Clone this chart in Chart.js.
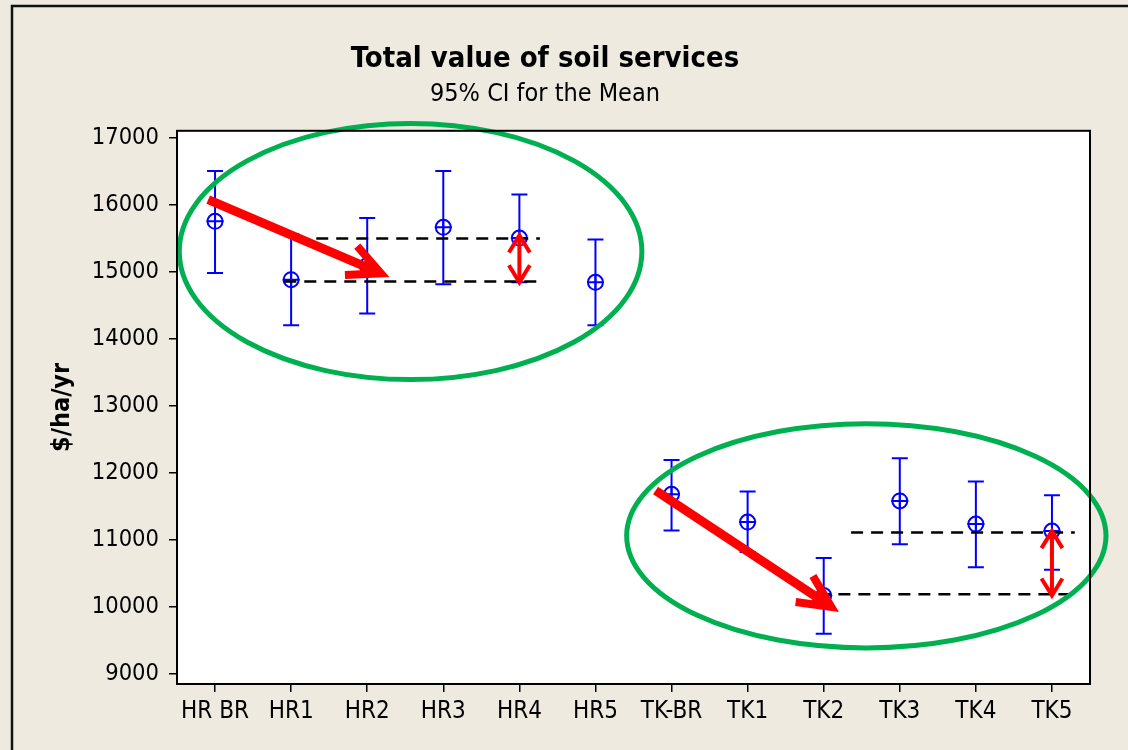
<!DOCTYPE html>
<html>
<head>
<meta charset="utf-8">
<script src="https://cdn.jsdelivr.net/npm/chart.js@4.4.1/dist/chart.umd.min.js"></script>
<style>
  html, body { margin: 0; padding: 0; background: #EEEAE0; overflow: hidden; }
  #wrap { width: 1128px; height: 750px; }
</style>
</head>
<body>
<div id="wrap"><canvas id="ciChart" width="1128" height="750"></canvas></div>
<script>
// data
const groups = ['HR BR', 'HR1', 'HR2', 'HR3', 'HR4', 'HR5', 'TK-BR', 'TK1', 'TK2', 'TK3', 'TK4', 'TK5'];
const means  = [15750, 14880, 15090, 15660, 15500, 14840, 11680, 11265, 10170, 11580, 11235, 11130];
const ciLow  = [14980, 14200, 14375, 14810, 14840, 14200, 11140, 10820, 9600, 10935, 10590, 10555];
const ciHigh = [16500, 15560, 15800, 16500, 16150, 15480, 12190, 11720, 10730, 12215, 11870, 11665];
const yTicks = [9000, 10000, 11000, 12000, 13000, 14000, 15000, 16000, 17000];

// annotations, in category index / value units
const ellipses = [
  { cx: 2.57, cy: 15300, rx: 3.04, ry: 1910 },
  { cx: 8.56, cy: 11060, rx: 3.15, ry: 1672 }
];
const dashLines = [
  { x0: 1.33, x1: 4.27, y: 15493 },
  { x0: 0.91, x1: 4.25, y: 14851 },
  { x0: 8.36, x1: 11.30, y: 11109 },
  { x0: 7.93, x1: 11.26, y: 10189 }
];
const arrows = [
  { x0: -0.09, y0: 16075, x1: 2.18, y1: 14975 },
  { x0: 5.79, y0: 11735, x1: 8.1, y1: 10000 }
];
const doubleArrows = [
  { x: 4, y0: 15540, y1: 14840 },
  { x: 11, y0: 11130, y1: 10170 }
];

const BLUE = '#0000FF', GREEN = '#00B050', RED = '#FF0000';
const FONT = '"DejaVu Sans Condensed", "DejaVu Sans", sans-serif';

function arrowHead(ctx, tx, ty, ang, len, spread) {
  ctx.beginPath();
  ctx.moveTo(tx - len * Math.cos(ang - spread), ty - len * Math.sin(ang - spread));
  ctx.lineTo(tx, ty);
  ctx.lineTo(tx - len * Math.cos(ang + spread), ty - len * Math.sin(ang + spread));
  ctx.stroke();
}

const framePlugin = {
  id: 'frame',
  beforeDraw(chart) {
    const { ctx, chartArea: a } = chart;
    ctx.save();
    ctx.fillStyle = '#EEEAE0';
    ctx.fillRect(0, 0, chart.width, chart.height);
    ctx.strokeStyle = '#111';
    ctx.lineWidth = 2.5;
    ctx.beginPath();
    ctx.moveTo(12, 760);
    ctx.lineTo(12, 6);
    ctx.lineTo(1140, 6);
    ctx.stroke();
    ctx.fillStyle = '#fff';
    ctx.fillRect(a.left, a.top, a.right - a.left, a.bottom - a.top);
    ctx.restore();
  },
  afterDraw(chart) {
    const { ctx, chartArea: a } = chart;
    ctx.save();
    ctx.strokeStyle = '#000';
    ctx.lineWidth = 2;
    ctx.strokeRect(a.left, a.top, a.right - a.left, a.bottom - a.top);
    ctx.restore();
  }
};

const intervalPlugin = {
  id: 'intervals',
  beforeDatasetsDraw(chart) {
    const { ctx, scales: { x, y } } = chart;
    ctx.save();
    ctx.strokeStyle = BLUE;
    ctx.lineWidth = 2;
    groups.forEach((g, i) => {
      const px = x.getPixelForValue(i);
      const lo = y.getPixelForValue(ciLow[i]);
      const hi = y.getPixelForValue(ciHigh[i]);
      ctx.beginPath();
      ctx.moveTo(px, lo); ctx.lineTo(px, hi);
      ctx.moveTo(px - 8, lo); ctx.lineTo(px + 8, lo);
      ctx.moveTo(px - 8, hi); ctx.lineTo(px + 8, hi);
      ctx.stroke();
    });
    ctx.restore();
  },
  afterDatasetsDraw(chart) {
    const { ctx, scales: { x, y } } = chart;
    ctx.save();
    // dashed reference lines
    ctx.strokeStyle = '#000';
    ctx.lineWidth = 2.5;
    ctx.setLineDash([12, 8]);
    dashLines.forEach(d => {
      const py = y.getPixelForValue(d.y);
      ctx.beginPath();
      ctx.moveTo(x.getPixelForValue(d.x0), py);
      ctx.lineTo(x.getPixelForValue(d.x1), py);
      ctx.stroke();
    });
    ctx.setLineDash([]);

    // red arrows
    ctx.strokeStyle = RED;
    ctx.fillStyle = RED;
    ctx.lineCap = 'butt';
    arrows.forEach(a => {
      const x0 = x.getPixelForValue(a.x0), y0 = y.getPixelForValue(a.y0);
      const x1 = x.getPixelForValue(a.x1), y1 = y.getPixelForValue(a.y1);
      const ang = Math.atan2(y1 - y0, x1 - x0);
      ctx.lineWidth = 9;
      ctx.beginPath();
      ctx.moveTo(x0, y0);
      ctx.lineTo(x1 - 10 * Math.cos(ang), y1 - 10 * Math.sin(ang));
      ctx.stroke();
      ctx.lineWidth = 8;
      ctx.lineJoin = 'miter';
      arrowHead(ctx, x1, y1, ang, 36, 0.45);
      ctx.beginPath();
      ctx.moveTo(x1, y1);
      ctx.lineTo(x1 - 22 * Math.cos(ang - 0.45), y1 - 22 * Math.sin(ang - 0.45));
      ctx.lineTo(x1 - 22 * Math.cos(ang + 0.45), y1 - 22 * Math.sin(ang + 0.45));
      ctx.closePath();
      ctx.fill();
    });
    doubleArrows.forEach(d => {
      const px = x.getPixelForValue(d.x);
      const ya = y.getPixelForValue(d.y0), yb = y.getPixelForValue(d.y1);
      ctx.lineWidth = 4;
      ctx.beginPath();
      ctx.moveTo(px, ya + 2); ctx.lineTo(px, yb - 2);
      ctx.stroke();
      arrowHead(ctx, px, ya, -Math.PI / 2, 20, 0.55);
      arrowHead(ctx, px, yb, Math.PI / 2, 20, 0.55);
    });

    // green ellipses
    ctx.strokeStyle = GREEN;
    ctx.lineWidth = 5;
    ellipses.forEach(e => {
      const cx = x.getPixelForValue(e.cx), cy = y.getPixelForValue(e.cy);
      const rx = x.getPixelForValue(e.cx + e.rx) - cx;
      const ry = cy - y.getPixelForValue(e.cy + e.ry);
      ctx.beginPath();
      ctx.ellipse(cx, cy, rx, ry, 0, 0, Math.PI * 2);
      ctx.stroke();
    });
    ctx.restore();
  }
};

new Chart(document.getElementById('ciChart'), {
  type: 'line',
  data: {
    labels: groups,
    datasets: [
      {
        data: means, showLine: false, pointStyle: 'circle', pointRadius: 7.5,
        pointBorderColor: BLUE, pointBorderWidth: 2, pointBackgroundColor: 'rgba(0,0,0,0)',
        pointHoverRadius: 7.5
      },
      {
        data: means, showLine: false, pointStyle: 'cross', pointRadius: 8.5,
        pointBorderColor: BLUE, pointBorderWidth: 2, pointHoverRadius: 8.5
      }
    ]
  },
  options: {
    responsive: false,
    animation: false,
    events: [],
    layout: { padding: { top: 0, left: 0, right: 38, bottom: 0 } },
    plugins: {
      legend: { display: false },
      tooltip: { enabled: false },
      title: {
        display: true, text: 'Total value of soil services', color: '#000',
        font: { family: FONT, size: 29, weight: 'bold', lineHeight: 1.2 },
        padding: { top: 42, bottom: 0 }
      },
      subtitle: {
        display: true, text: '95% CI for the Mean', color: '#000',
        font: { family: FONT, size: 25, lineHeight: 1.2 },
        padding: { top: 3, bottom: 21 }
      }
    },
    scales: {
      x: {
        offset: true,
        grid: { display: true, drawOnChartArea: false, drawTicks: true, tickLength: 8, color: '#000', lineWidth: 1.5, offset: false },
        border: { color: '#000', width: 2 },
        ticks: { color: '#000', font: { family: FONT, size: 24 }, padding: 5, maxRotation: 0, autoSkip: false },
        afterFit(s) { s.height = 66; }
      },
      y: {
        min: 8850, max: 17100,
        afterBuildTicks(s) { s.ticks = yTicks.map(v => ({ value: v })); },
        grid: { display: true, drawOnChartArea: false, drawTicks: true, tickLength: 8, color: '#000', lineWidth: 1.5 },
        border: { color: '#000', width: 2 },
        ticks: { color: '#000', font: { family: FONT, size: 23.5 }, padding: 10, callback: v => String(v) },
        title: {
          display: true, text: '$/ha/yr', color: '#000',
          font: { family: FONT, size: 25, weight: 'bold', lineHeight: 1.2 },
          padding: { top: 47, bottom: 0 }
        },
        afterFit(s) { s.width = 177; }
      }
    }
  },
  plugins: [framePlugin, intervalPlugin]
});
</script>
</body>
</html>
